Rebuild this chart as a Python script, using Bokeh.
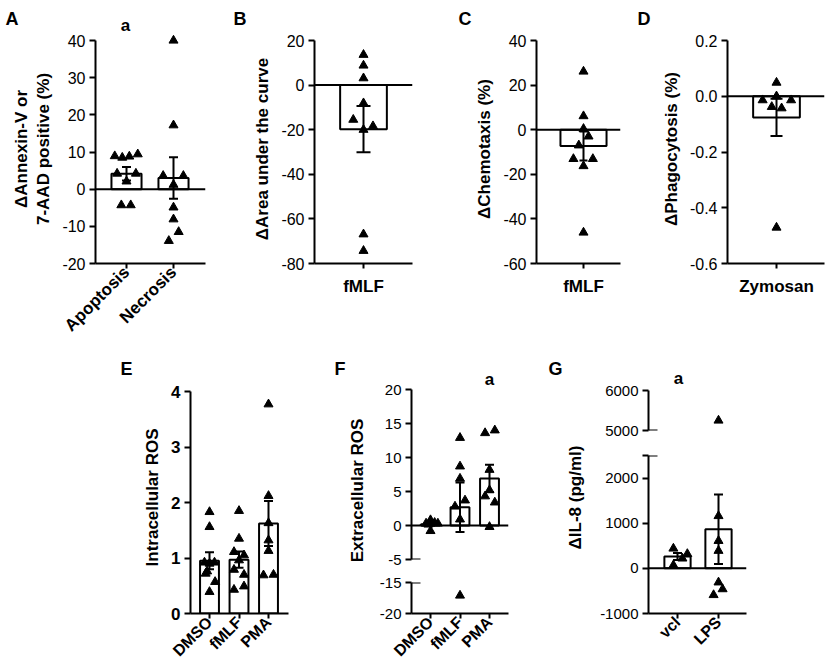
import math
import numpy as np
from bokeh.plotting import figure
from bokeh.models import (ColumnDataSource, Whisker, TeeHead, Span, Label, FixedTicker,
                          PrintfTickFormatter, Range1d, Arrow)
from bokeh.layouts import row, column
from bokeh.embed import file_html
from bokeh.resources import INLINE

FONT = "Liberation Sans"

# ---------------- data ----------------
a_categories = ["Apoptosis", "Necrosis"]
a_apoptosis = [8.9, 8.5, 8.8, 9.4, 4.2, 2.1, 4.2, -4.3, -4.3]
a_apoptosis_jitter = [-0.25, -0.09, 0.06, 0.24, -0.2, 0.0, 0.2, -0.11, 0.09]
a_necrosis = [40.0, 17.2, 3.6, 3.6, 1.2, -4.9, -8.1, -11.5, -13.9]
a_necrosis_jitter = [0, 0, -0.22, 0.21, 0, 0, 0, 0.11, -0.1]
a_yticks = [-20, -10, 0, 10, 20, 30, 40]

b_categories = ["fMLF"]
b_fmlf = [13.6, 8.8, 3.1, -8.1, -15.5, -20.0, -18.4, -66.9, -74.3]
b_fmlf_jitter = [0, 0, 0, 0, -0.14, 0, 0.13, 0, 0]
b_yticks = [-80, -60, -40, -20, 0, 20]

c_categories = ["fMLF"]
c_fmlf = [26.1, 6.1, 0.4, -3.0, -7.0, -13.1, -13.1, -16.3, -46.1]
c_fmlf_jitter = [0, 0, 0, 0.07, -0.065, -0.14, 0.13, 0, 0]
c_yticks = [-60, -40, -20, 0, 20, 40]

d_categories = ["Zymosan"]
d_zymosan = [0.049, -0.014, 0.0, -0.014, -0.038, -0.043, -0.471]
d_zymosan_jitter = [0, -0.19, 0, 0.2, -0.065, 0.07, 0]
d_yticks = [-0.6, -0.4, -0.2, 0.0, 0.2]

e_categories = ["DMSO", "fMLF", "PMA"]
e_dmso = [1.83, 1.56, 0.92, 0.90, 0.92, 0.76, 0.72, 0.57, 0.39]
e_dmso_jitter = [0, 0, -0.17, 0, 0.17, -0.08, -0.13, 0.19, 0]
e_fmlf = [1.85, 1.35, 1.11, 1.05, 0.96, 0.79, 0.70, 0.49, 0.43]
e_fmlf_jitter = [0, 0, -0.17, 0.17, 0, -0.17, 0.17, 0.17, -0.17]
e_pma = [3.77, 2.12, 1.63, 1.32, 1.13, 0.69, 0.70]
e_pma_jitter = [0, 0, 0, 0, 0, -0.17, 0.17]
e_yticks = [0, 1, 2, 3, 4]

f_categories = ["DMSO", "fMLF", "PMA"]
f_dmso = [0.3, 0.8, 0.4, 0.3, 0.15, -0.8]
f_dmso_jitter = [-0.15, 0, 0.14, 0.25, -0.07, 0]
f_fmlf = [12.9, 8.7, 6.9, 3.7, 2.8, 0.9, -17.1]
f_fmlf_jitter = [0, 0, 0, 0.17, -0.17, 0, 0]
f_pma = [13.6, 14.0, 8.2, 5.2, 4.3, 3.4, -0.2]
f_pma_jitter = [-0.15, 0.18, 0, 0, -0.15, 0.18, 0]
f_yticks_top = [-5, 0, 5, 10, 15, 20]
f_yticks_bottom = [-20, -15]

g_categories = ["vcl", "LPS"]
g_vcl = [440, 320, 220, 70]
g_vcl_jitter = [-0.1, 0.24, 0.12, -0.1]
g_lps = [5250, 1160, 610, 390, -310, -460, -590]
g_lps_jitter = [0, 0, 0, 0, 0, 0.1, -0.12]
g_yticks_top = [5000, 6000]
g_yticks_bottom = [-1000, 0, 1000, 2000, 2500]

panel_letters = ["A", "B", "C", "D", "E", "F", "G"]
significance = "a"


def mean_sem(v):
    a = np.asarray(v, dtype=float)
    return float(a.mean()), float(a.std(ddof=1) / math.sqrt(len(a)))


# ---------------- helpers ----------------
def base_fig(**kw):
    p = figure(output_backend="svg", toolbar_location=None, title=None, **kw)
    p.outline_line_color = None
    p.grid.visible = False
    p.background_fill_color = "white"
    p.border_fill_color = "white"
    return p


def make_fig(fig_box, frame_box, x_first_px, x_unit_px, y_lo, y_hi, y_lo_px, y_hi_px, x_axis=True):
    fx0, fy0, fx1, fy1 = fig_box
    l, t, r, b = frame_box
    ppu = (y_lo_px - y_hi_px) / (y_hi - y_lo)
    y_start = y_lo - (y_lo_px - b) / ppu
    y_end = y_start + (b - t) / ppu
    x_start = 1 - (x_first_px - l) / x_unit_px
    x_end = x_start + (r - l) / x_unit_px
    p = base_fig(frame_width=r - l, frame_height=b - t,
                 min_border_left=l - fx0, min_border_right=fx1 - r,
                 min_border_top=t - fy0, min_border_bottom=fy1 - b,
                 x_range=Range1d(x_start, x_end), y_range=Range1d(y_start, y_end),
                 x_axis_location="below" if x_axis else None)
    p._x_start = x_start
    p._x_unit = x_unit_px
    p._px2x = lambda px: x_start + (px - l) / x_unit_px
    p._py2y = lambda py: y_start + (b - py) / ppu
    return p


def text_strip(box):
    """A figure without axes that only carries texts, in page pixel coordinates."""
    x0, y0, x1, y1 = box
    p = base_fig(frame_width=x1 - x0, frame_height=y1 - y0,
                 min_border_left=0, min_border_right=0, min_border_top=0, min_border_bottom=0,
                 x_range=Range1d(x0, x1), y_range=Range1d(y1, y0),
                 x_axis_location=None, y_axis_location=None)
    p._px2x = lambda px: px
    p._py2y = lambda py: py
    return p


def put_text(p, s, x, y, align="left", size="18px", angle=0.0):
    p.add_layout(Label(x=p._px2x(x), y=p._py2y(y), text=s, text_font=FONT, text_font_size=size,
                       text_font_style="bold", text_color="black",
                       text_align=align, text_baseline="middle", angle=angle))


def style_y(p, ticks, fmt, label=None, size="16px", bold=False, overrides=None):
    ax = p.yaxis[0]
    ax.ticker = FixedTicker(ticks=ticks, minor_ticks=[])
    ax.formatter = PrintfTickFormatter(format=fmt)
    if overrides:
        ax.major_label_overrides = overrides
    ax.bounds = (min(ticks), max(ticks))
    ax.axis_line_width = 2
    ax.major_tick_line_width = 2
    ax.major_tick_out = 6
    ax.major_tick_in = 0
    ax.minor_tick_line_color = None
    ax.major_label_text_font = FONT
    ax.major_label_text_font_size = size
    ax.major_label_text_font_style = "bold" if bold else "normal"
    ax.major_label_text_color = "black"
    ax.major_label_standoff = 4
    if label:
        ax.axis_label = label
        ax.axis_label_text_font = FONT
        ax.axis_label_text_font_size = "17px"
        ax.axis_label_text_font_style = "bold"
        ax.axis_label_text_color = "black"
        ax.axis_label_standoff = 6


def style_x(p, cats, rotate, size="17px"):
    ax = p.xaxis[0]
    ax.ticker = FixedTicker(ticks=list(range(1, len(cats) + 1)), minor_ticks=[])
    ax.major_label_overrides = {i + 1: c for i, c in enumerate(cats)}
    ax.axis_line_width = 2
    ax.major_tick_line_width = 2
    ax.major_tick_out = 5
    ax.major_tick_in = 0
    ax.minor_tick_line_color = None
    ax.major_label_text_font = FONT
    ax.major_label_text_font_size = size
    ax.major_label_text_font_style = "bold"
    ax.major_label_text_color = "black"
    if rotate:
        ax.major_label_orientation = math.pi / 4
        ax.major_label_standoff = 1
    else:
        ax.major_label_standoff = 8


def bars_and_points(p, groups, jitters, cap=10, draw_bars=True):
    xs = list(range(1, len(groups) + 1))
    stats = [mean_sem(g) for g in groups]
    means = [s[0] for s in stats]
    if draw_bars:
        p.vbar(x=xs, top=means, bottom=0, width=0.64, fill_color="white",
               line_color="black", line_width=2)
        src = ColumnDataSource(dict(x=xs, upper=[m + s for m, s in stats],
                                    lower=[m - s for m, s in stats]))
        w = Whisker(source=src, base="x", upper="upper", lower="lower",
                    line_width=2, line_color="black", level="annotation",
                    upper_head=TeeHead(size=cap, line_width=2, line_color="black"),
                    lower_head=TeeHead(size=cap, line_width=2, line_color="black"))
        p.add_layout(w)
    px, py = [], []
    for i, (g, j) in enumerate(zip(groups, jitters)):
        for v, dj in zip(g, j):
            px.append(i + 1 + dj)
            py.append(v)
    p.scatter(x=px, y=py, marker="triangle", size=9, fill_color="black", line_color="black")


def zero_line(p):
    p.add_layout(Span(location=0, dimension="width", line_color="black", line_width=2))


def stub(p, y, length_px=9):
    x0 = p._x_start
    p.add_layout(Arrow(x_start=x0, y_start=y, x_end=x0 + length_px / p._x_unit, y_end=y,
                       end=None, line_width=2, line_color="black"))


# ---------------- strip with the top letters ----------------
sTop = text_strip((0, 0, 826, 34))
put_text(sTop, panel_letters[0], 5, 18.5)
put_text(sTop, panel_letters[1], 233, 18.5)
put_text(sTop, panel_letters[2], 458, 18.5)
put_text(sTop, panel_letters[3], 637, 18.5)
put_text(sTop, significance, 125, 24.5, align="center", size="17px")

# ---------------- top row ----------------
pA = make_fig((0, 34, 215, 348), (95, 34, 205, 263), 126, 47, -20, 40, 263, 40)
style_y(pA, a_yticks, "%d", "\u0394Annexin-V or\n7-AAD positive (%)")
style_x(pA, a_categories, True)
zero_line(pA)
bars_and_points(pA, [a_apoptosis, a_necrosis], [a_apoptosis_jitter, a_necrosis_jitter], cap=9)

pB = make_fig((215, 34, 420, 348), (314, 34, 412, 263), 363, 73, -80, 20, 263, 40)
style_y(pB, b_yticks, "%d", "\u0394Area under the curve")
style_x(pB, b_categories, False)
zero_line(pB)
bars_and_points(pB, [b_fmlf], [b_fmlf_jitter], cap=14)

pC = make_fig((420, 34, 630, 348), (536, 34, 620, 263), 583, 72, -60, 40, 263, 40)
style_y(pC, c_yticks, "%d", "\u0394Chemotaxis (%)")
style_x(pC, c_categories, False)
zero_line(pC)
bars_and_points(pC, [c_fmlf], [c_fmlf_jitter], cap=8)

pD = make_fig((630, 34, 826, 348), (727, 34, 824, 263), 776, 73, -0.6, 0.2, 263, 40)
style_y(pD, d_yticks, "%.1f", "\u0394Phagocytosis (%)")
style_x(pD, d_categories, False)
zero_line(pD)
bars_and_points(pD, [d_zymosan], [d_zymosan_jitter], cap=12)

# ---------------- bottom row ----------------
sE = text_strip((0, 348, 140, 668))
put_text(sE, panel_letters[4], 120, 368.5)

pE = make_fig((140, 348, 330, 668), (190, 381, 288, 613), 209, 29.5, 0, 4, 613, 391)
style_y(pE, e_yticks, "%d", "Intracellular ROS", size="17px", bold=True)
style_x(pE, e_categories, True, size="16px")
bars_and_points(pE, [e_dmso, e_fmlf, e_pma], [e_dmso_jitter, e_fmlf_jitter, e_pma_jitter], cap=9)

sF = text_strip((330, 348, 372, 668))
put_text(sF, panel_letters[5], 334, 368.5)
put_text(sF, "Extracellular ROS", 357, 490, align="center", size="17px", angle=math.pi / 2)

f_groups = [f_dmso, f_fmlf, f_pma]
f_jit = [f_dmso_jitter, f_fmlf_jitter, f_pma_jitter]
pFt = make_fig((372, 348, 515, 570), (411, 365, 508, 559), 430, 29.5, -5, 20, 559, 389, x_axis=False)
style_y(pFt, f_yticks_top, "%d", None, size="15px")
zero_line(pFt)
bars_and_points(pFt, f_groups, f_jit, cap=9)
stub(pFt, -5)
put_text(pFt, significance, 489, 378.5, align="center", size="17px")

pFb = make_fig((372, 570, 515, 668), (411, 582, 508, 613), 430, 29.5, -20, -15, 613, 582)
style_y(pFb, f_yticks_bottom, "%d", None, size="15px")
style_x(pFb, f_categories, True, size="16px")
bars_and_points(pFb, f_groups, f_jit, draw_bars=False)
stub(pFb, -15)

sG = text_strip((515, 348, 590, 668))
put_text(sG, panel_letters[6], 548, 368.5)
put_text(sG, "\u0394IL-8 (pg/ml)", 575, 497, align="center", size="17px", angle=math.pi / 2)

g_groups = [g_vcl, g_lps]
g_jit = [g_vcl_jitter, g_lps_jitter]
pGt = make_fig((590, 348, 760, 445), (648, 365, 746, 430), 677, 41, 5000, 6000, 430, 390, x_axis=False)
style_y(pGt, g_yticks_top, "%d", None, size="15px")
bars_and_points(pGt, g_groups, g_jit, draw_bars=False)
stub(pGt, 5000)
put_text(pGt, significance, 678, 377.5, align="center", size="17px")

pGb = make_fig((590, 445, 760, 668), (648, 455, 746, 613), 677, 41, -1000, 2500, 613, 455)
style_y(pGb, g_yticks_bottom, "%d", None, size="15px", overrides={2500: ""})
style_x(pGb, g_categories, True, size="16px")
zero_line(pGb)
bars_and_points(pGb, g_groups, g_jit, cap=9)
stub(pGb, 2500)

layout = column(
    sTop,
    row(pA, pB, pC, pD),
    row(sE, column(pE), sF, column(pFt, pFb), sG, column(pGt, pGb)),
)

with open("out.html", "w") as fh:
    fh.write(file_html(layout, INLINE))
